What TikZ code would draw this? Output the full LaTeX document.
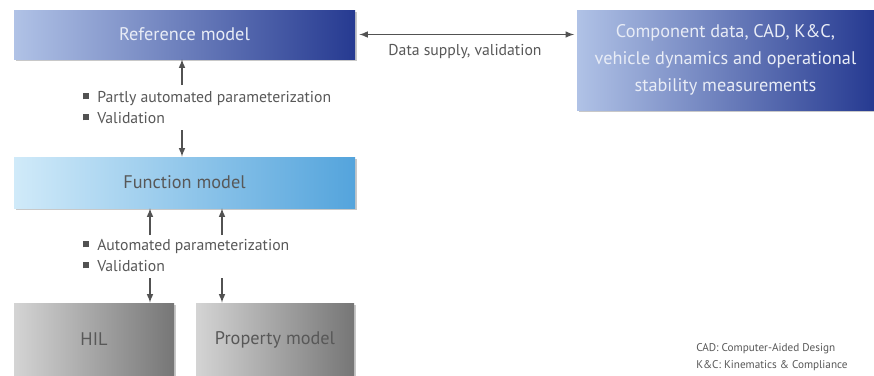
\documentclass[tikz,border=0pt]{standalone}
\usepackage{fontspec}
\setmainfont{PT Sans}
\usetikzlibrary{shadows}
\definecolor{refLight}{RGB}{176,194,230}
\definecolor{refMid}{RGB}{78,98,172}
\definecolor{refDark}{RGB}{38,58,145}
\definecolor{funLight}{RGB}{208,234,249}
\definecolor{funMid}{RGB}{126,198,236}
\definecolor{funDark}{RGB}{84,164,220}
\definecolor{gryLight}{RGB}{212,212,212}
\definecolor{gryMid}{RGB}{182,182,182}
\definecolor{gryDark}{RGB}{118,118,118}
\definecolor{txtGray}{RGB}{88,88,88}
\definecolor{arrGray}{RGB}{82,82,82}
\definecolor{boxText}{RGB}{232,236,246}
\newcommand{\sqitem}{\textcolor{arrGray}{\rule[0.2em]{4.5pt}{4.5pt}}\hspace{6pt}}
\tikzset{
  box/.style={rectangle, inner sep=2pt, align=center,
    drop shadow={shadow xshift=1.2pt, shadow yshift=-1.2pt, opacity=.3, fill=black!70},
    font=\fontsize{13.7}{20.25}\selectfont},
  bluebox/.style={box, left color=refLight, middle color=refMid, right color=refDark, text=boxText},
  lightbox/.style={box, left color=funLight, middle color=funMid, right color=funDark, text=txtGray},
  greybox/.style={box, left color=gryLight, middle color=gryMid, right color=gryDark, text=txtGray},
  note/.style={text=txtGray, align=left, inner sep=0pt, font=\fontsize{11.8}{15.75}\selectfont},
  arr/.style={draw=arrGray, line width=1.2pt, ->}
}
\begin{document}
\begin{tikzpicture}[x=0.75pt, y=-0.75pt, >=latex]
    \useasboundingbox (0,0) rectangle (874,375);
    \fill[white] (0,0) rectangle (874,375);
    \node[bluebox, minimum width=255.75pt, minimum height=36.75pt] (a) at (184.5, 34.5) {Reference model};
    \node[bluebox, minimum width=222.75pt, minimum height=75pt] (b) at (725.5, 60) {Component data, CAD, K\&C,\\vehicle dynamics and operational\\stability measurements};
    \node[lightbox, minimum width=255.75pt, minimum height=38.25pt] (c) at (184.5, 182.5) {Function model};
    \node[greybox, minimum width=120pt, minimum height=54.75pt] (d) at (94, 339.5) {HIL};
    \node[greybox, minimum width=118.5pt, minimum height=54.75pt] (e) at (275, 339.5) {Property model};
    \node[note, anchor=west] (f) at (83, 107.5) {\sqitem Partly automated parameterization\\\sqitem Validation};
    \node[note, anchor=west] (g) at (83, 255.5) {\sqitem Automated parameterization\\\sqitem Validation};
    \node[note] (h) at (465, 52) {Data supply, validation};
    \node[note, anchor=west, font=\fontsize{8.4}{12.75}\selectfont] (k) at (696, 357.5) {CAD: Computer-Aided Design\\K\&C: Kinematics \& Compliance};
    \coordinate (p1) at (182, 85);
    \coordinate (p2) at (182, 130);
    \coordinate (q1) at (150, 235);
    \coordinate (q2) at (222, 235);
    \coordinate (q3) at (150, 278);
    \coordinate (q4) at (222, 278);
    \draw [arr, <->, shorten <=3pt, shorten >=2pt] (a.east) to (a.east -| b.west);
    \draw [arr] (p1) to (p1 |- a.south);
    \draw [arr] (p2) to (p2 |- c.north);
    \draw [arr] (q1) to (q1 |- c.south);
    \draw [arr] (q2) to (q2 |- c.south);
    \draw [arr] (q3) to (q3 |- d.north);
    \draw [arr] (q4) to (q4 |- e.north);
  \end{tikzpicture}
\end{document}
